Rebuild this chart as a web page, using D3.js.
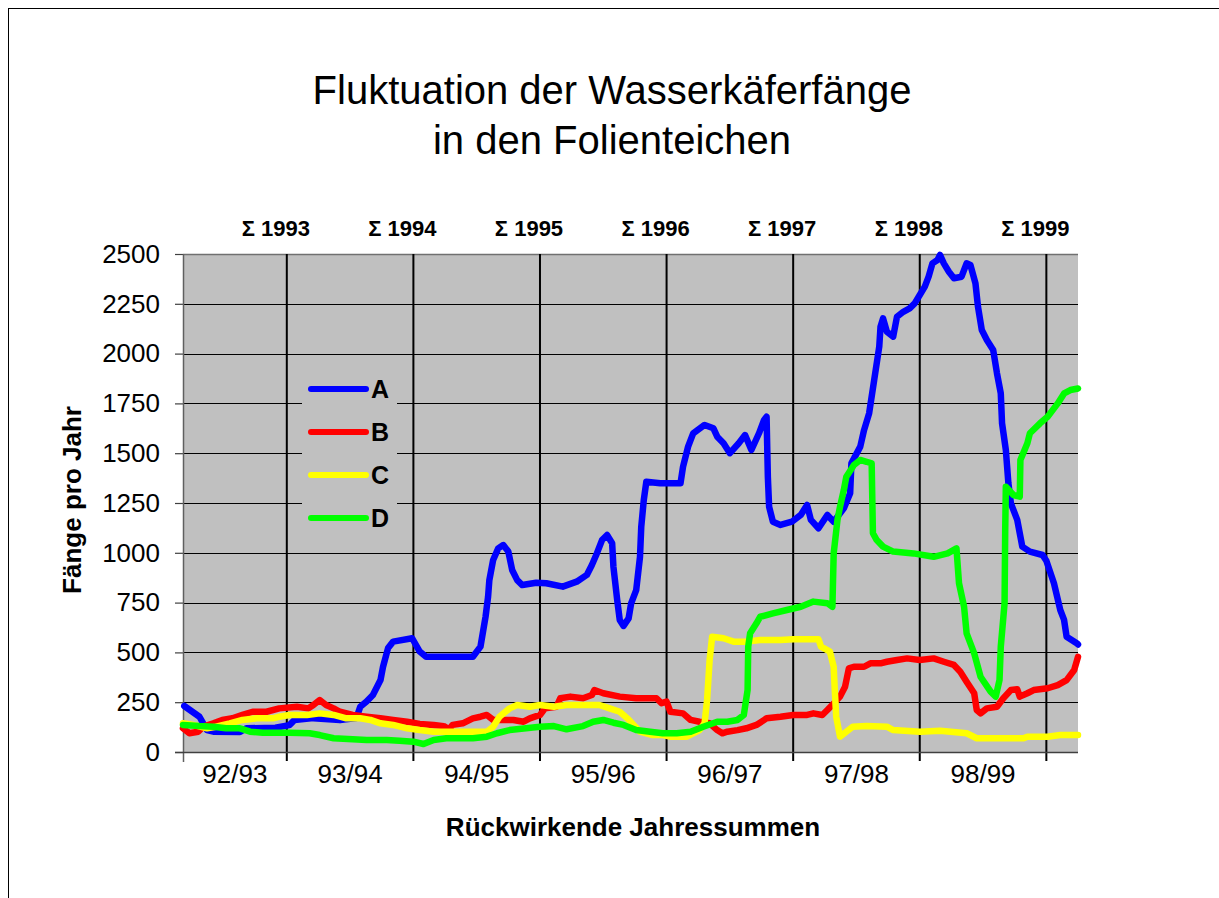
<!DOCTYPE html>
<html>
<head>
<meta charset="utf-8">
<script src="https://cdn.jsdelivr.net/npm/d3@7/dist/d3.min.js"></script>
<style>
  html, body { margin: 0; padding: 0; background: #fff; }
  svg { display: block; font-family: "Liberation Sans", Arial, sans-serif; }
</style>
</head>
<body>
<svg id="chart" width="1219" height="898"></svg>
<script>
// ---- DATA (decimal year, catches per year) ----
const seriesNames = ["A", "B", "C", "D"];
const seriesColors = ["#0000FF", "#FF0000", "#FFFF00", "#00FF00"];

const seriesA = [
  [1993.19,231],[1993.31,177],[1993.37,110],[1993.42,102],[1993.63,100],[1993.68,119],[1993.91,122],
  [1994.02,135],[1994.06,160],[1994.21,170],[1994.42,160],[1994.55,170],[1994.58,227],[1994.63,253],
  [1994.68,286],[1994.74,361],[1994.76,427],[1994.80,522],[1994.84,554],[1994.99,571],[1995.05,504],
  [1995.10,478],[1995.47,478],[1995.53,529],[1995.57,679],[1995.59,780],[1995.60,863],[1995.63,964],
  [1995.67,1022],[1995.71,1039],[1995.75,1006],[1995.78,914],[1995.82,863],[1995.86,838],[1995.97,850],
  [1996.05,847],[1996.18,830],[1996.29,855],[1996.37,889],[1996.41,939],[1996.45,998],[1996.49,1064],
  [1996.53,1089],[1996.57,1048],[1996.58,930],[1996.61,763],[1996.63,663],[1996.66,633],[1996.70,671],
  [1996.72,746],[1996.76,813],[1996.79,980],[1996.80,1131],[1996.82,1265],[1996.84,1357],[1996.95,1349],
  [1997.11,1349],[1997.13,1432],[1997.17,1533],[1997.21,1600],[1997.30,1642],[1997.37,1625],[1997.40,1583],
  [1997.45,1550],[1997.50,1500],[1997.57,1550],[1997.62,1591],[1997.67,1516],[1997.73,1600],[1997.77,1667],
  [1997.79,1683],[1997.80,1382],[1997.81,1231],[1997.84,1156],[1997.90,1140],[1997.99,1156],[1998.06,1190],
  [1998.11,1240],[1998.14,1165],[1998.20,1123],[1998.27,1190],[1998.32,1156],[1998.40,1223],[1998.45,1299],
  [1998.46,1449],[1998.53,1533],[1998.56,1616],[1998.60,1700],[1998.64,1867],[1998.68,2035],[1998.69,2135],
  [1998.71,2177],[1998.74,2110],[1998.79,2085],[1998.82,2185],[1998.87,2210],[1998.92,2227],[1998.96,2252],
  [1999.00,2294],[1999.04,2336],[1999.07,2386],[1999.10,2453],[1999.14,2470],[1999.16,2495],[1999.19,2453],
  [1999.23,2411],[1999.27,2378],[1999.33,2386],[1999.37,2453],[1999.40,2445],[1999.44,2353],[1999.46,2235],
  [1999.49,2118],[1999.53,2068],[1999.58,2018],[1999.61,1901],[1999.64,1800],[1999.65,1650],[1999.68,1516],
  [1999.70,1349],[1999.72,1248],[1999.77,1165],[1999.81,1031],[1999.87,1006],[1999.97,989],[2000.00,960],
  [2000.06,847],[2000.11,713],[2000.14,663],[2000.16,579],[2000.24,546],[2000.25,540]
];

const seriesB = [
  [1993.18,119],[1993.23,94],[1993.30,102],[1993.34,127],[1993.42,144],[1993.49,161],[1993.57,169],
  [1993.65,186],[1993.73,202],[1993.84,202],[1993.94,219],[1994.08,227],[1994.17,219],[1994.21,236],
  [1994.26,261],[1994.31,236],[1994.37,219],[1994.42,202],[1994.52,186],[1994.63,177],[1994.74,169],
  [1994.84,161],[1994.95,152],[1995.05,141],[1995.16,136],[1995.24,130],[1995.28,114],[1995.31,136],
  [1995.39,144],[1995.47,169],[1995.53,177],[1995.58,186],[1995.63,161],[1995.79,161],[1995.87,152],
  [1995.92,169],[1996.00,186],[1996.04,219],[1996.13,227],[1996.16,270],[1996.24,278],[1996.34,270],
  [1996.41,286],[1996.43,311],[1996.50,295],[1996.63,278],[1996.76,270],[1996.92,270],[1996.96,245],
  [1997.00,253],[1997.03,202],[1997.13,194],[1997.19,161],[1997.26,152],[1997.34,144],[1997.40,110],
  [1997.44,94],[1997.48,102],[1997.56,110],[1997.63,119],[1997.71,136],[1997.79,169],[1997.90,177],
  [1998.00,186],[1998.11,186],[1998.16,194],[1998.23,186],[1998.27,211],[1998.32,244],[1998.37,278],
  [1998.41,328],[1998.44,420],[1998.48,428],[1998.56,428],[1998.61,445],[1998.69,445],[1998.74,453],
  [1998.82,462],[1998.90,470],[1999.00,462],[1999.11,470],[1999.19,453],[1999.27,437],[1999.32,403],
  [1999.37,353],[1999.43,295],[1999.45,211],[1999.48,194],[1999.53,219],[1999.61,227],[1999.66,270],
  [1999.72,311],[1999.77,315],[1999.79,278],[1999.85,295],[1999.90,311],[2000.01,320],[2000.09,336],
  [2000.16,361],[2000.22,412],[2000.25,478]
];

const seriesC = [
  [1993.18,144],[1993.26,136],[1993.37,119],[1993.44,127],[1993.55,144],[1993.65,161],[1993.76,169],
  [1993.89,169],[1993.94,177],[1994.02,186],[1994.16,186],[1994.26,194],[1994.37,186],[1994.47,169],
  [1994.58,169],[1994.66,161],[1994.74,144],[1994.84,136],[1994.95,119],[1995.05,110],[1995.16,102],
  [1995.32,102],[1995.47,102],[1995.58,102],[1995.63,127],[1995.68,177],[1995.76,219],[1995.82,236],
  [1995.92,227],[1996.00,236],[1996.11,227],[1996.21,236],[1996.47,236],[1996.55,219],[1996.63,202],
  [1996.69,169],[1996.74,136],[1996.79,102],[1996.89,85],[1996.97,85],[1997.03,77],[1997.16,77],
  [1997.26,110],[1997.30,144],[1997.32,261],[1997.34,462],[1997.36,579],[1997.45,571],[1997.53,554],
  [1997.63,554],[1997.74,562],[1997.90,562],[1998.00,566],[1998.20,566],[1998.22,529],[1998.29,504],
  [1998.32,428],[1998.33,295],[1998.34,177],[1998.37,77],[1998.42,102],[1998.47,127],[1998.58,130],
  [1998.74,127],[1998.79,110],[1999.00,102],[1999.16,107],[1999.37,94],[1999.45,69],[1999.82,69],
  [1999.85,77],[2000.01,77],[2000.11,85],[2000.25,85]
];

const seriesD = [
  [1993.18,136],[1993.31,130],[1993.42,127],[1993.52,119],[1993.63,119],[1993.71,102],[1993.81,97],
  [1994.02,97],[1994.18,94],[1994.26,85],[1994.37,69],[1994.52,64],[1994.63,60],[1994.79,60],
  [1994.89,57],[1995.00,52],[1995.08,40],[1995.16,60],[1995.26,69],[1995.47,69],[1995.58,77],
  [1995.66,94],[1995.76,110],[1995.89,119],[1996.00,127],[1996.11,130],[1996.21,114],[1996.34,130],
  [1996.42,152],[1996.50,161],[1996.58,147],[1996.66,136],[1996.76,110],[1996.87,102],[1996.97,94],
  [1997.08,94],[1997.19,102],[1997.29,127],[1997.40,152],[1997.48,152],[1997.56,161],[1997.61,186],
  [1997.64,311],[1997.645,529],[1997.66,596],[1997.71,646],[1997.74,679],[1997.84,696],[1997.95,713],
  [1998.06,729],[1998.16,755],[1998.27,747],[1998.31,729],[1998.32,997],[1998.35,1165],[1998.37,1231],
  [1998.40,1315],[1998.42,1382],[1998.48,1441],[1998.53,1466],[1998.58,1457],[1998.62,1449],[1998.63,1098],
  [1998.66,1064],[1998.71,1031],[1998.79,1006],[1998.95,997],[1999.11,980],[1999.22,997],[1999.29,1022],
  [1999.31,847],[1999.35,729],[1999.37,596],[1999.43,495],[1999.48,378],[1999.56,303],[1999.60,278],
  [1999.63,361],[1999.64,529],[1999.67,747],[1999.675,1114],[1999.68,1332],[1999.74,1290],[1999.79,1282],
  [1999.795,1466],[1999.85,1550],[1999.87,1600],[1999.95,1650],[2000.01,1683],[2000.09,1750],[2000.14,1800],
  [2000.19,1817],[2000.25,1825]
];

const allSeries = [seriesA, seriesB, seriesC, seriesD];

const xDomain = [1993.18, 2000.25];
const yearLines = [1994, 1995, 1996, 1997, 1998, 1999, 2000];
const sigmaLabels = ["Σ 1993", "Σ 1994", "Σ 1995", "Σ 1996", "Σ 1997", "Σ 1998", "Σ 1999"];
const periodLabels = ["92/93", "93/94", "94/95", "95/96", "96/97", "97/98", "98/99"];
const yTicks = [0, 250, 500, 750, 1000, 1250, 1500, 1750, 2000, 2250, 2500];
const titleLines = ["Fluktuation der Wasserkäferfänge", "in den Folienteichen"];
const yTitle = "Fänge pro Jahr";
const xTitle = "Rückwirkende Jahressummen";

// ---- LAYOUT ----
const plot = { left: 183, right: 1078, top: 254, bottom: 752 };
const svg = d3.select("#chart");

const x = d3.scaleLinear().domain(xDomain).range([plot.left, plot.right]);
const y = d3.scaleLinear().domain([0, 2500]).range([plot.bottom, plot.top]);

// outer frame
svg.append("rect").attr("x", 8.5).attr("y", 8.5).attr("width", 1400).attr("height", 1200)
  .attr("fill", "#fff").attr("stroke", "#000").attr("stroke-width", 1);

// title
svg.append("g").selectAll("text").data(titleLines).join("text")
  .attr("x", 612).attr("y", (d, i) => 104 + i * 50)
  .attr("text-anchor", "middle").attr("font-size", 40).attr("fill", "#000")
  .text(d => d);

// plot background
svg.append("rect").attr("x", plot.left).attr("y", plot.top)
  .attr("width", plot.right - plot.left).attr("height", plot.bottom - plot.top)
  .attr("fill", "#C0C0C0");

// horizontal gridlines
svg.append("g").selectAll("line").data(yTicks.filter(v => v > 0 && v < 2500)).join("line")
  .attr("x1", plot.left).attr("x2", plot.right)
  .attr("y1", d => Math.round(y(d)) + 0.5).attr("y2", d => Math.round(y(d)) + 0.5)
  .attr("stroke", "#000").attr("stroke-width", 1);

// top border
svg.append("line").attr("x1", plot.left).attr("x2", plot.right)
  .attr("y1", plot.top + 0.5).attr("y2", plot.top + 0.5)
  .attr("stroke", "#707070").attr("stroke-width", 1.5);

// legend box (covers gridlines)
const legend = svg.append("g");
legend.append("rect").attr("x", 302).attr("y", 368).attr("width", 95).attr("height", 172)
  .attr("fill", "#C0C0C0");

// year lines (also bottom ticks)
svg.append("g").selectAll("line").data(yearLines).join("line")
  .attr("x1", d => x(d)).attr("x2", d => x(d))
  .attr("y1", plot.top).attr("y2", plot.bottom + 9)
  .attr("stroke", "#000").attr("stroke-width", 2);

// y axis
const yAxis = d3.axisLeft(y).tickValues(yTicks).tickSize(8).tickPadding(15).tickFormat(d3.format("d"));
const yg = svg.append("g").attr("transform", `translate(${plot.left},0)`).call(yAxis);
yg.select(".domain").remove();
yg.selectAll(".tick line").attr("stroke", "#404040").attr("stroke-width", 1.2);
yg.selectAll(".tick text").attr("font-size", 26).attr("fill", "#000")
  .attr("font-family", "Liberation Sans, Arial, sans-serif");

// left axis line & bottom axis line
svg.append("line").attr("x1", plot.left + 0.5).attr("x2", plot.left + 0.5)
  .attr("y1", plot.top).attr("y2", plot.bottom + 10)
  .attr("stroke", "#606060").attr("stroke-width", 1.5);
svg.append("line").attr("x1", plot.left - 8).attr("x2", plot.right)
  .attr("y1", plot.bottom + 0.5).attr("y2", plot.bottom + 0.5)
  .attr("stroke", "#404040").attr("stroke-width", 1.5);

// series lines
const line = d3.line().x(d => x(d[0])).y(d => y(d[1]));
svg.append("g").selectAll("path").data(allSeries).join("path")
  .attr("d", line)
  .attr("fill", "none")
  .attr("stroke", (d, i) => seriesColors[i])
  .attr("stroke-width", 6.5)
  .attr("stroke-linejoin", "round")
  .attr("stroke-linecap", "round");

// legend entries
const legendY = d3.scalePoint().domain(seriesNames).range([389, 518]);
const le = legend.selectAll("g.entry").data(seriesNames).join("g").attr("class", "entry");
le.append("line").attr("x1", 311).attr("x2", 366)
  .attr("y1", d => legendY(d)).attr("y2", d => legendY(d))
  .attr("stroke", (d, i) => seriesColors[i]).attr("stroke-width", 6).attr("stroke-linecap", "round");
le.append("text").attr("x", 371).attr("y", d => legendY(d)).attr("dy", "0.36em")
  .attr("font-size", 25).attr("font-weight", "bold").attr("fill", "#000").text(d => d);

// sigma labels above
svg.append("g").selectAll("text").data(sigmaLabels).join("text")
  .attr("x", (d, i) => x(yearLines[i]) - 11).attr("y", 236)
  .attr("text-anchor", "middle").attr("font-size", 22).attr("font-weight", "bold")
  .attr("fill", "#000").text(d => d);

// period labels below
const bounds = [xDomain[0]].concat(yearLines);
svg.append("g").selectAll("text").data(periodLabels).join("text")
  .attr("x", (d, i) => (x(bounds[i]) + x(bounds[i + 1])) / 2).attr("y", 783)
  .attr("text-anchor", "middle").attr("font-size", 26).attr("fill", "#000").text(d => d);

// axis titles
svg.append("text").attr("x", 633).attr("y", 836).attr("text-anchor", "middle")
  .attr("font-size", 26).attr("font-weight", "bold").attr("fill", "#000").text(xTitle);
svg.append("text").attr("transform", "translate(81,500) rotate(-90)")
  .attr("text-anchor", "middle").attr("font-size", 26).attr("font-weight", "bold")
  .attr("fill", "#000").text(yTitle);
</script>
</body>
</html>
